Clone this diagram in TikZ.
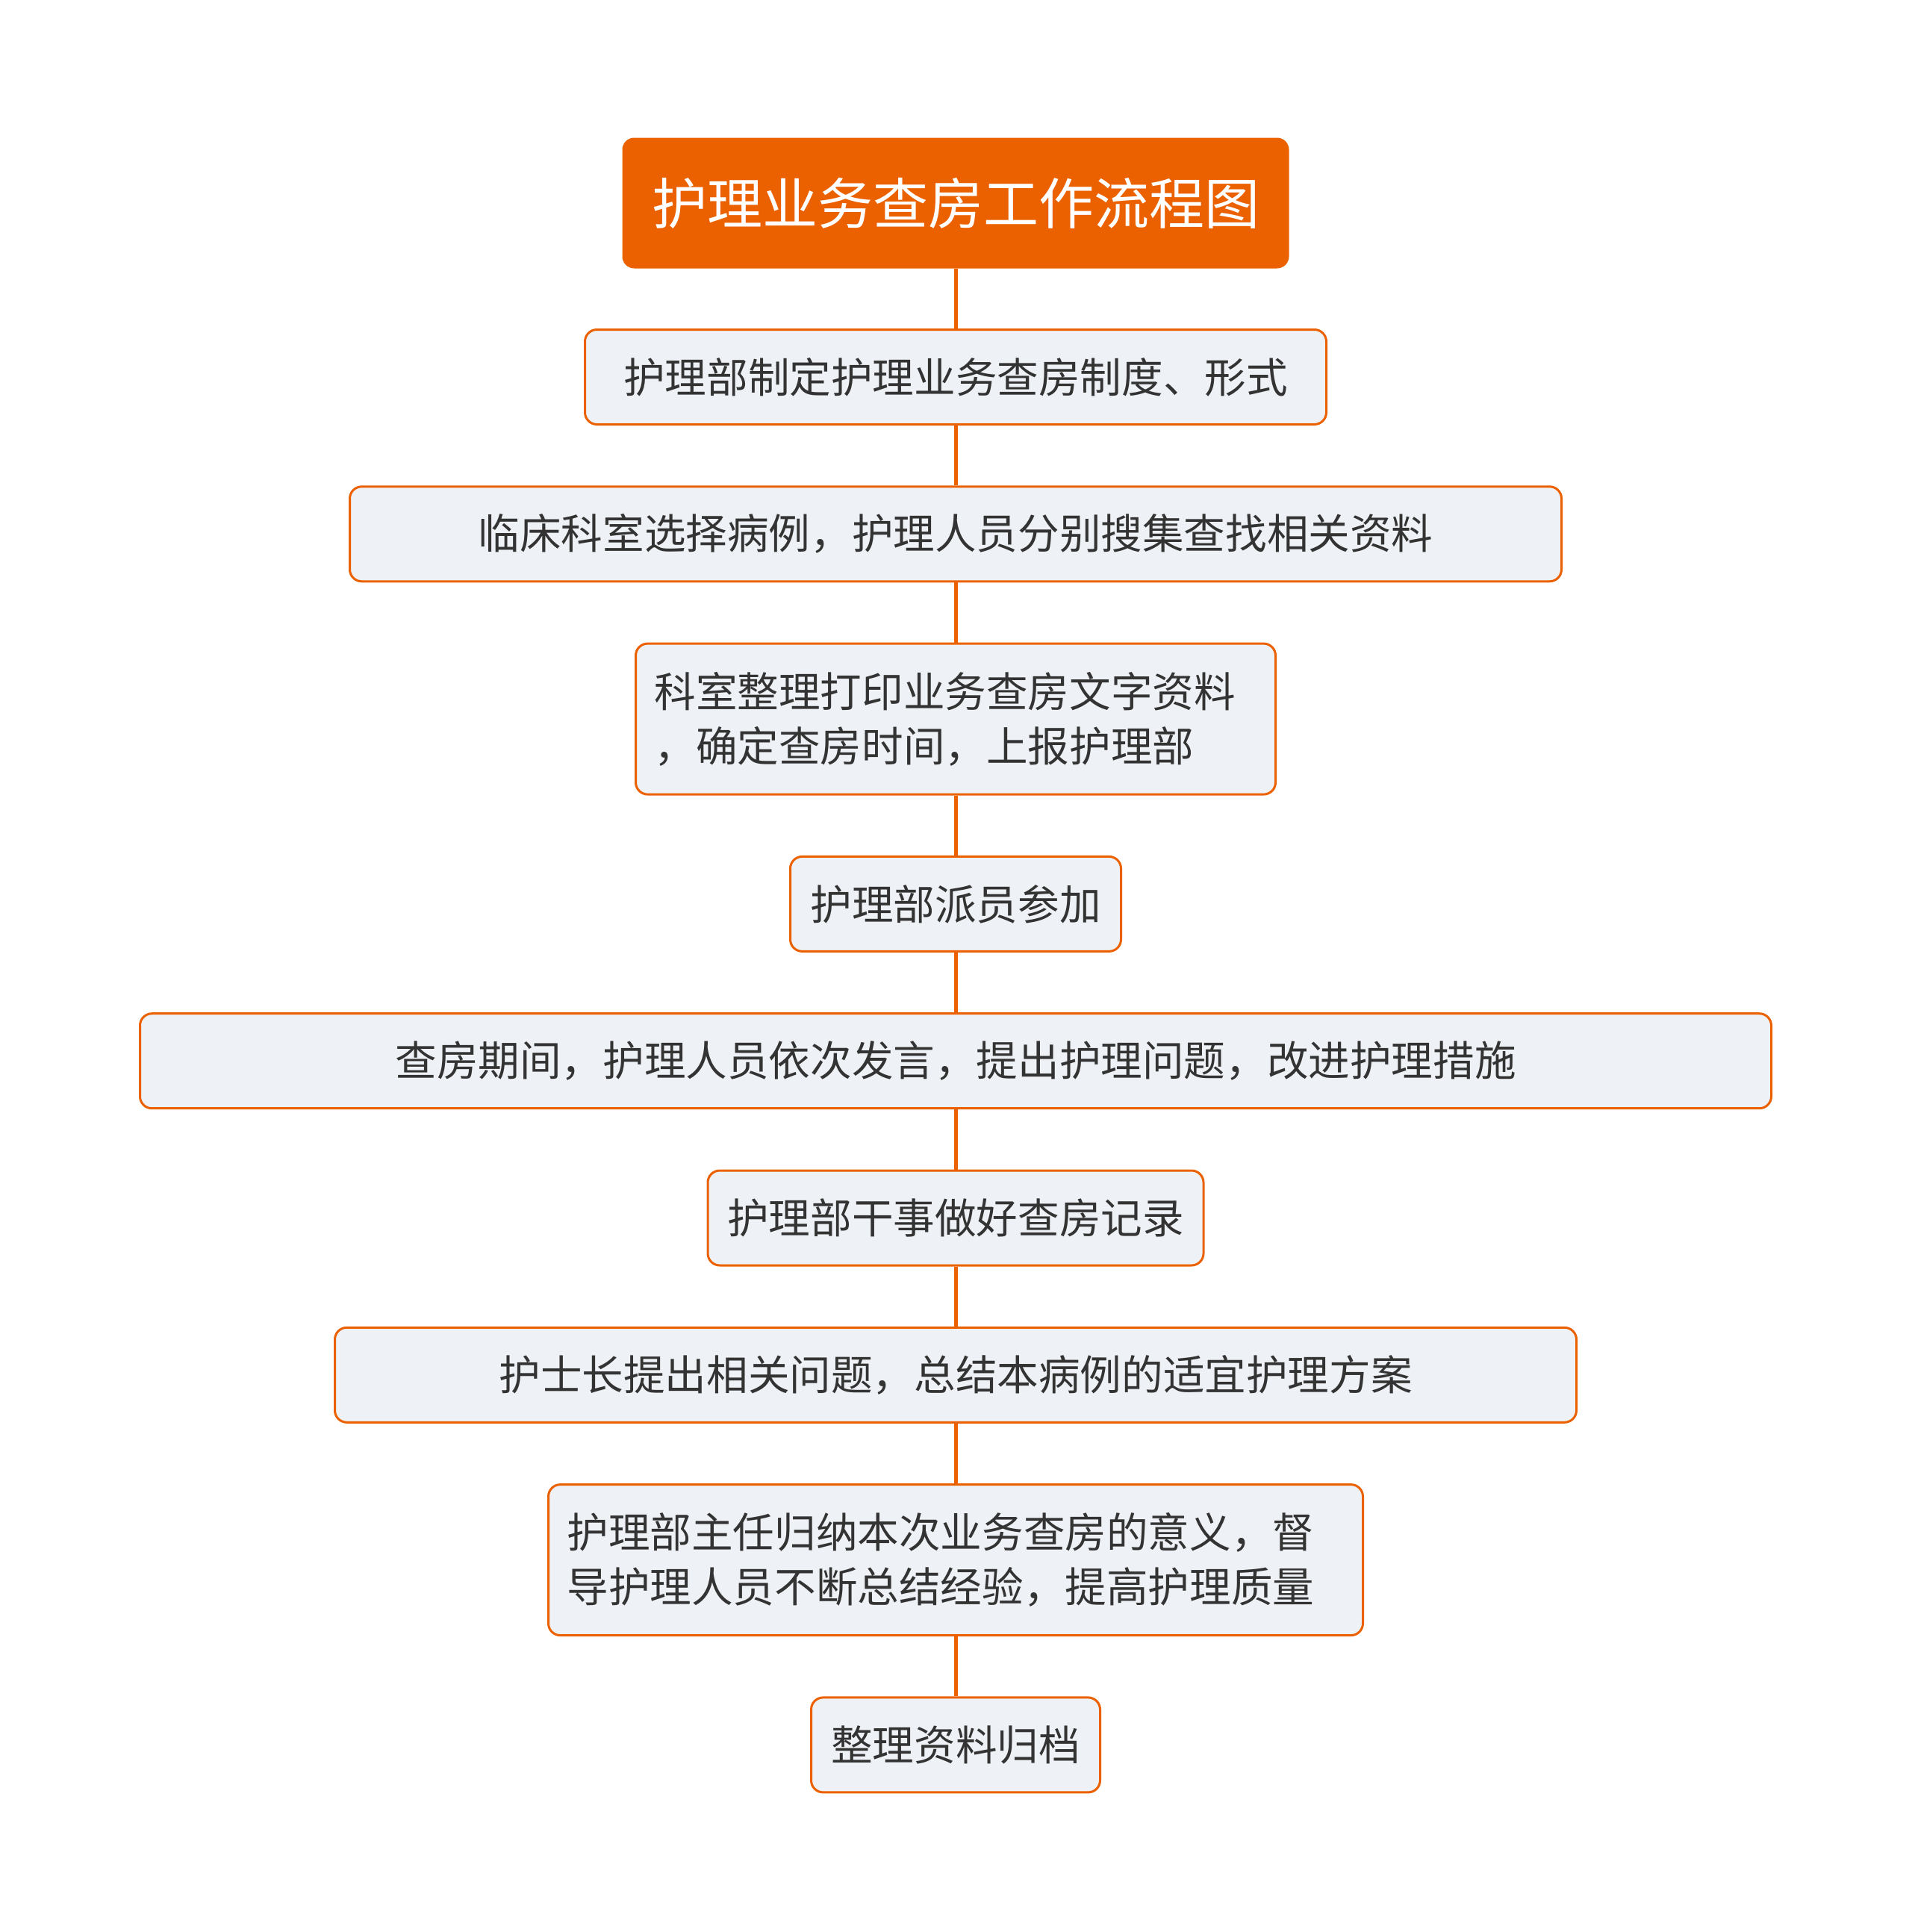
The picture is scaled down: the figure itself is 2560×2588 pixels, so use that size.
\documentclass[tikz,border=0pt]{standalone}
\usepackage{fontspec}
\setmainfont{Noto Sans CJK SC}
\usetikzlibrary{positioning}
\definecolor{flowor}{HTML}{EB6100}
\definecolor{stepfill}{HTML}{EEF1F5}
\definecolor{steptext}{HTML}{333333}

\begin{document}
\begin{tikzpicture}[x=1pt, y=-1pt, node distance=80.3pt,
        titlebox/.style={fill=flowor, text=white, rounded corners=16pt,
            minimum width=893pt, minimum height=175pt,
            font=\fontsize{74}{90}\selectfont},
        stepbox/.style={draw=flowor, line width=3pt, fill=stepfill, text=steptext,
            rounded corners=16pt, minimum height=127pt,
            font=\fontsize{55.6}{72.6}\selectfont},
        twoline/.style={stepbox, align=left, inner xsep=25pt, minimum height=202pt},
        link/.style={draw=flowor, line width=5pt}]
        \useasboundingbox (0,0) rectangle (2560,2588);
        \node (title) [titlebox] at (1280,272) {护理业务查房工作流程图};
        \node (s1) [stepbox, minimum width=993pt, below=of title] {护理部制定护理业务查房制度、形式};
        \node (s2) [stepbox, minimum width=1623pt, below=of s1] {临床科室选择病例，护理人员分别搜集查找相关资料};
        \node (s3) [twoline, text width=807pt, below=of s2] {科室整理打印业务查房文字资料\\，确定查房时间，上报护理部};
        \node (s4) [stepbox, minimum width=443pt, below=of s3] {护理部派员参加};
        \node (s5) [stepbox, minimum width=2185pt, below=of s4] {查房期间，护理人员依次发言，提出护理问题，改进护理措施};
        \node (s6) [stepbox, minimum width=664pt, below=of s5] {护理部干事做好查房记录};
        \node (s7) [stepbox, minimum width=1663pt, below=of s6] {护士长提出相关问题，总结本病例的适宜护理方案};
        \node (s8) [twoline, text width=1041pt, below=of s7] {护理部主任归纳本次业务查房的意义，督\\导护理人员不断总结经验，提高护理质量};
        \node (s9) [stepbox, minimum width=387pt, below=of s8] {整理资料归档};
        \draw [link] (title) -- (s1);
        \draw [link] (s1) -- (s2);
        \draw [link] (s2) -- (s3);
        \draw [link] (s3) -- (s4);
        \draw [link] (s4) -- (s5);
        \draw [link] (s5) -- (s6);
        \draw [link] (s6) -- (s7);
        \draw [link] (s7) -- (s8);
        \draw [link] (s8) -- (s9);
    \end{tikzpicture}
\end{document}
